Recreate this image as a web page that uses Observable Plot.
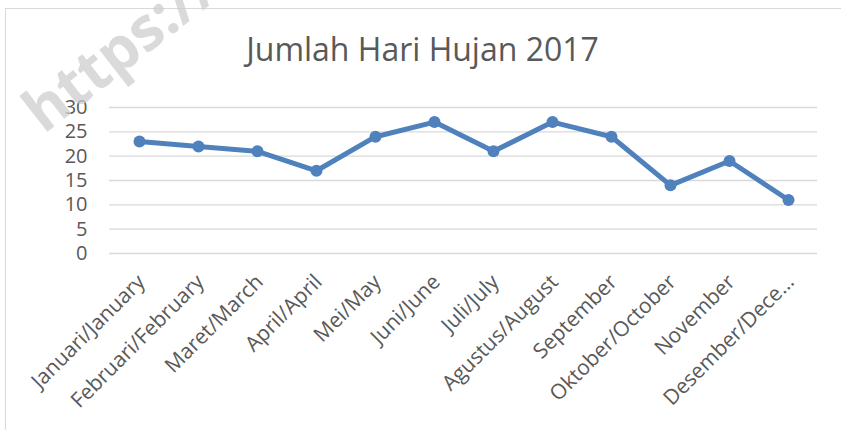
<!DOCTYPE html>
<html>
<head>
<meta charset="utf-8">
<script src="https://cdn.jsdelivr.net/npm/d3@7"></script>
<script src="https://cdn.jsdelivr.net/npm/@observablehq/plot@0.6"></script>
<style>
  html, body { margin: 0; padding: 0; background: #fff; }
  #wrap { position: relative; width: 841px; height: 430px; overflow: hidden; background: #fff; font-family: "Open Sans", sans-serif; }
  #frame { position: absolute; left: 5px; top: 8px; right: -2px; bottom: -2px; border-top: 1.5px solid #d9d9d9; border-left: 1.5px solid #d9d9d9; }
  #title { position: absolute; left: 0; width: 845px; top: 27px; text-align: center; font-size: 32px; color: #595959; font-family: "Open Sans", sans-serif; white-space: nowrap; }
  #chart { position: absolute; left: 0; top: 0; }
  #wm { position: absolute; left: 11px; top: 93px; font-size: 60px; line-height: 60px; font-weight: bold; color: rgba(205,205,205,0.75); transform: rotate(-38deg); transform-origin: 0 0; white-space: nowrap; font-family: "Open Sans", sans-serif; z-index: 5; }
</style>
</head>
<body>
<div id="wrap">
  <div id="frame"></div>
  <div id="title"></div>
  <div id="chart"></div>
  <div id="wm"></div>
</div>
<script>
const title = "Jumlah Hari Hujan 2017";
const watermark = "https://";
const months = ["Januari/January", "Februari/February", "Maret/March", "April/April", "Mei/May", "Juni/June", "Juli/July", "Agustus/August", "September", "Oktober/October", "November", "Desember/Dece…"];
const rainDays = [23, 22, 21, 17, 24, 27, 21, 27, 24, 14, 19, 11];
const yTicks = [0, 5, 10, 15, 20, 25, 30];

const data = months.map((m, i) => ({month: m, value: rainDays[i]}));

document.getElementById("title").textContent = title;
document.getElementById("wm").textContent = watermark;

const chart = Plot.plot({
  width: 841,
  height: 430,
  marginTop: 107,
  marginBottom: 177,
  marginLeft: 109,
  marginRight: 24,
  style: {fontFamily: "Open Sans", fontSize: "20px", color: "#595959", background: "transparent", overflow: "visible"},
  x: {type: "point", domain: months, padding: 0.5, label: null},
  y: {domain: [0, 30], label: null},
  marks: [
    Plot.gridY(yTicks, {stroke: "#d9d9d9", strokeOpacity: 1, strokeWidth: 1.3}),
    Plot.axisY(yTicks, {tickSize: 0, tickPadding: 22, fontSize: 20, fill: "#595959"}),
    Plot.axisX({tickRotate: -45, tickSize: 0, tickPadding: 25, dx: 2, fontSize: 21, fill: "#595959"}),
    Plot.line(data, {x: "month", y: "value", stroke: "#4f81bd", strokeWidth: 5, strokeLinejoin: "round"}),
    Plot.dot(data, {x: "month", y: "value", r: 6, fill: "#4f81bd"})
  ]
});
document.getElementById("chart").appendChild(chart);
</script>
</body>
</html>
